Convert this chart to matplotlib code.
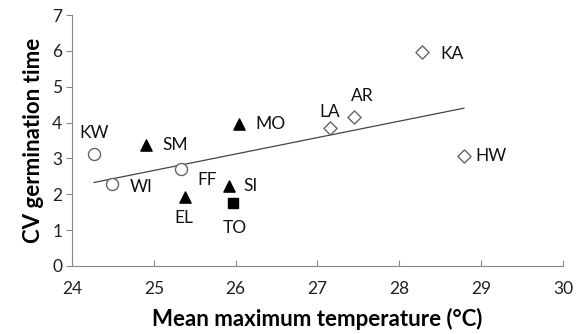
import numpy as np
import matplotlib
matplotlib.use('Agg')
import matplotlib.pyplot as plt

plt.rcParams['font.family'] = ['Lato', 'DejaVu Sans']

# site data: mean max temperature (C) vs CV germination time
circle_sites = ['KW', 'WI', 'FF']
circle_x = [24.27, 24.49, 25.33]
circle_y = [3.12, 2.28, 2.71]

tri_sites = ['SM', 'EL', 'MO', 'SI']
tri_x = [24.90, 25.38, 26.04, 25.92]
tri_y = [3.38, 1.92, 3.95, 2.23]

square_sites = ['TO']
square_x = [25.97]
square_y = [1.75]

diamond_sites = ['LA', 'AR', 'KA', 'HW']
diamond_x = [27.15, 27.45, 28.28, 28.79]
diamond_y = [3.84, 4.16, 5.98, 3.08]

# label offsets in points
offsets = {
    'KW': (0, 15, 'center'), 'WI': (13, -2, 'left'), 'FF': (12, -8, 'left'),
    'SM': (12, 0, 'left'), 'EL': (-1, -15, 'center'), 'MO': (12, 0, 'left'),
    'SI': (10, 0, 'left'), 'TO': (1, -18, 'center'), 'LA': (0, 12, 'center'),
    'AR': (6, 15, 'center'), 'KA': (13, -2, 'left'), 'HW': (8, 0, 'left'),
}

fig = plt.figure(figsize=(5.83, 3.34), dpi=100)
ax = fig.add_axes([0.1235, 0.2036, 0.842, 0.751])

ax.scatter(circle_x, circle_y, s=75, marker='o', facecolor='white',
           edgecolor='#666666', linewidth=1.0, zorder=3)
ax.scatter(tri_x, tri_y, s=65, marker='^', color='black', zorder=3)
ax.scatter(square_x, square_y, s=60, marker='s', color='black', zorder=3)
ax.scatter(diamond_x, diamond_y, s=45, marker='D', facecolor='white',
           edgecolor='#666666', linewidth=1.0, zorder=3)

# linear trend over all sites
all_x = np.array(circle_x + tri_x + square_x + diamond_x)
all_y = np.array(circle_y + tri_y + square_y + diamond_y)
slope, icpt = np.polyfit(all_x, all_y, 1)
xs = np.array([all_x.min(), all_x.max()])
ax.plot(xs, slope * xs + icpt, color='#444444', linewidth=0.9, zorder=2)

for names, xv, yv in [(circle_sites, circle_x, circle_y), (tri_sites, tri_x, tri_y),
                      (square_sites, square_x, square_y), (diamond_sites, diamond_x, diamond_y)]:
    for n, x, y in zip(names, xv, yv):
        dx, dy, ha = offsets[n]
        ax.annotate(n, (x, y), xytext=(dx, dy), textcoords='offset points',
                    ha=ha, va='center', fontsize=12.5, color='#111111')

ax.set_xlim(24, 30)
ax.set_ylim(0, 7)
ax.set_xticks(range(24, 31))
ax.set_yticks(range(0, 8))
for s in ['top', 'right']:
    ax.spines[s].set_visible(False)
for s in ['left', 'bottom']:
    ax.spines[s].set_color('#888888')
ax.tick_params(colors='#888888', labelcolor='#222222', labelsize=12.5, length=4)
ax.tick_params(axis='x', direction='in', pad=11)
ax.tick_params(axis='y', direction='out', pad=3)
ax.set_xlabel('Mean maximum temperature (°C)', fontsize=16, fontweight='bold', labelpad=8)
ax.set_ylabel('CV germination time', fontsize=16, fontweight='bold', labelpad=6)

plt.savefig('out.png', dpi=100)
